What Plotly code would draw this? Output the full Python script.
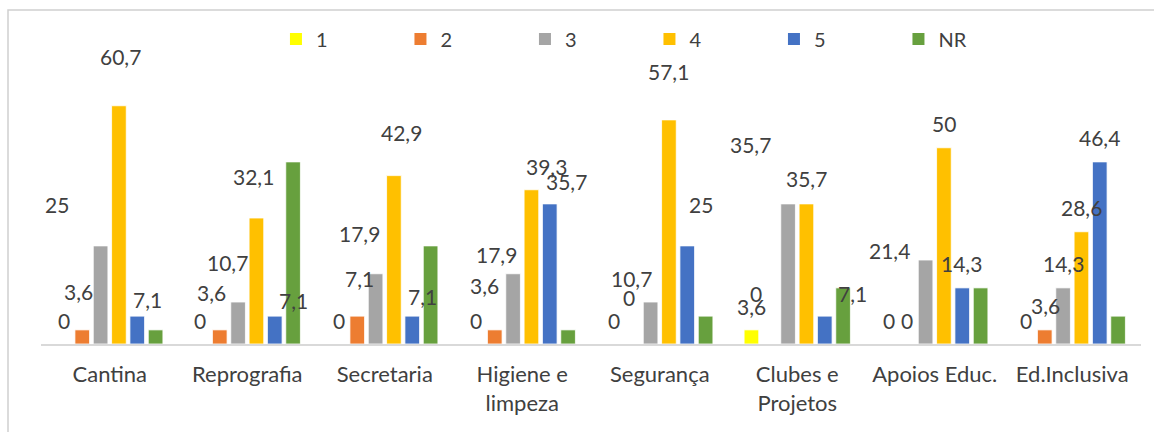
import plotly.graph_objects as go

categories = ["Cantina", "Reprografia", "Secretaria", "Higiene e<br>limpeza",
              "Segurança", "Clubes e<br>Projetos", "Apoios Educ.", "Ed.Inclusiva"]
series_names = ["1", "2", "3", "4", "5", "NR"]
s1 = [0, 0, 0, 0, 0, 3.6, 0, 0]
s2 = [3.6, 3.6, 7.1, 3.6, 0, 0, 0, 3.6]
s3 = [25, 10.7, 17.9, 17.9, 10.7, 35.7, 21.4, 14.3]
s4 = [60.7, 32.1, 42.9, 39.3, 57.1, 35.7, 50, 28.6]
s5 = [7.1, 7.1, 7.1, 35.7, 25, 7.1, 14.3, 46.4]
nr = [3.6, 46.4, 25, 3.6, 7.1, 14.3, 14.3, 7.1]
series_values = [s1, s2, s3, s4, s5, nr]

colors = ["#FFFF00", "#ED7D31", "#A5A5A5", "#FFC000", "#4472C4", "#67A03E"]

# label offsets (pixels) from category centre / bar top, for series 1..5
label_dx = [
    [-46, -47, -46, -46, -46, -46, -46, -46],
    [-31, -36, -25, -38, -31, -41, -28, -27],
    [-53, -20, -25, -26, -28, -47, -45, -9],
    [11, 6, 17, 24, 9, 9, 9, 9],
    [38, 46, 38, 44, 41, 55, 27, 27],
]
label_dy = [
    [24, 24, 24, 24, 24, 23, 24, 24],
    [38, 37, 38, 44, 47, 51, 24, 24],
    [41, 40, 40, 19, 24, 59, 10, 24],
    [49, 42, 43, 23, 48, 25, 24, 24],
    [17, 16, 20, 22, 41, 23, 24, 24],
]

FONT = "Lato"
TXT = "#404040"

fig = go.Figure()
for name, vals, col in zip(series_names, series_values, colors):
    fig.add_trace(go.Bar(name=name, x=categories, y=vals, showlegend=False,
                         marker=dict(color=col, line=dict(color="white", width=0.8))))
# legend entries (square swatches)
for name, col in zip(series_names, colors):
    fig.add_trace(go.Scatter(name=name, x=[None], y=[None], mode="markers",
                             marker=dict(symbol="square", size=12, color=col),
                             showlegend=True, hoverinfo="skip"))

def fmt(v):
    return f"{v:g}".replace(".", ",")

annotations = []
for si in range(5):
    for ci, cat in enumerate(categories):
        v = series_values[si][ci]
        annotations.append(dict(x=cat, y=v, xref="x", yref="y", text=fmt(v),
                                showarrow=False, xanchor="center", yanchor="middle",
                                xshift=label_dx[si][ci], yshift=label_dy[si][ci],
                                font=dict(family=FONT, size=21, color=TXT)))

fig.update_layout(
    width=1154, height=432,
    margin=dict(l=41, r=13, t=30, b=88, autoexpand=False),
    paper_bgcolor="white", plot_bgcolor="white",
    barmode="group", bargap=0.2, bargroupgap=0.2,
    font=dict(family=FONT, size=20, color=TXT),
    showlegend=True,
    legend=dict(orientation="h", x=0.2136, xanchor="left", y=0.971, yanchor="middle",
                entrywidth=79.5, entrywidthmode="pixels",
                font=dict(family=FONT, size=20, color=TXT),
                bgcolor="rgba(0,0,0,0)", traceorder="normal"),
    xaxis=dict(showline=True, linecolor="#D9D9D9", linewidth=1.5,
               showgrid=False, ticks="", ticklabelstandoff=10,
               tickfont=dict(family=FONT, size=22, color=TXT)),
    yaxis=dict(range=[0, 80], visible=False, showgrid=False),
    annotations=annotations,
    shapes=[dict(type="rect", xref="paper", yref="paper",
                 x0=-0.03, x1=1.2, y0=-0.6, y1=1.0637,
                 line=dict(color="#D0D0D0", width=1.5), fillcolor="rgba(0,0,0,0)",
                 layer="above")],
)

fig.write_html("out.html", config={"displayModeBar": False},
               post_script="document.body.style.margin='0';document.body.style.padding='0';")
